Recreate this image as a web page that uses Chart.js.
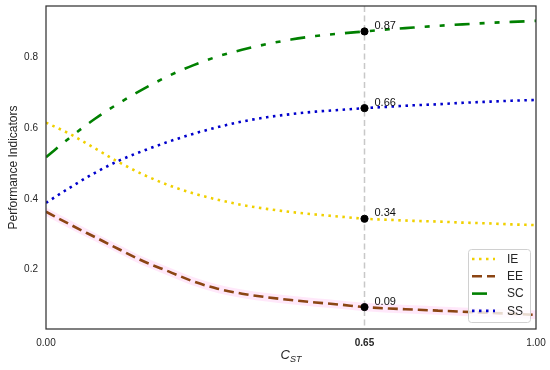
<!DOCTYPE html>
<html><head><meta charset="utf-8">
<script src="https://cdn.jsdelivr.net/npm/chart.js@4/dist/chart.umd.min.js"></script>
<style>html,body{margin:0;padding:0;background:#fff}</style>
</head><body>
<canvas id="c" width="550" height="370"></canvas>
<script>
// ---- data ----
const xValues  = [0,0.05,0.1,0.15,0.2,0.25,0.3,0.35,0.4,0.45,0.5,0.55,0.6,0.65,0.7,0.75,0.8,0.85,0.9,0.95,1.0];
const ieValues = [0.616,0.583,0.543,0.503,0.468,0.439,0.416,0.398,0.383,0.372,0.363,0.356,0.350,0.344,0.341,0.338,0.336,0.333,0.331,0.328,0.326];
const eeValues = [0.364,0.327,0.292,0.257,0.223,0.195,0.167,0.146,0.132,0.122,0.114,0.107,0.101,0.094,0.090,0.087,0.084,0.081,0.078,0.075,0.072];
const scValues = [0.518,0.575,0.627,0.672,0.712,0.748,0.778,0.803,0.822,0.838,0.851,0.861,0.868,0.874,0.880,0.885,0.890,0.894,0.898,0.901,0.904];
const ssValues = [0.389,0.433,0.474,0.509,0.537,0.562,0.584,0.603,0.619,0.631,0.640,0.647,0.652,0.657,0.661,0.665,0.668,0.672,0.675,0.678,0.680];
const eeBandHalf = 0.012;
const seriesNames = ['IE','EE','SC','SS'];
const highlightX = 0.65;
const xTicks = [0, 0.65, 1.0];
const yTicks = [0.2, 0.4, 0.6, 0.8];
const yMin = 0.032, yMax = 0.946;

const FONT = '"Liberation Sans", Arial, sans-serif';
const TXT = '#262626';
const pts = arr => arr.map((v,i)=>({x:xValues[i], y:v}));
const hiIdx = xValues.indexOf(highlightX);
const allSeries = [ieValues, eeValues, scValues, ssValues];

const styles = [
  {color:'#f0d000', dash:[2.5,4.5]},
  {color:'#8b4513', dash:[10,5]},
  {color:'#008000', dash:[15,10,5,10,5,10]},
  {color:'#0000cc', dash:[2.5,4.5]}
];

const datasets = seriesNames.map((n,i)=>({
  label:n, data:pts(allSeries[i]), borderColor:styles[i].color, borderDash:styles[i].dash,
  borderWidth:2.6, pointRadius:0, fill:false, tension:0.4, cubicInterpolationMode:'monotone', order:i+1
}));
datasets.push({label:'_bandHi', data:pts(eeValues.map(v=>v+eeBandHalf)), borderWidth:0, pointRadius:0,
  backgroundColor:'rgba(255,190,240,0.35)', fill:'+1', order:20, cubicInterpolationMode:'monotone'});
datasets.push({label:'_bandLo', data:pts(eeValues.map(v=>v-eeBandHalf)), borderWidth:0, pointRadius:0,
  fill:false, order:21, cubicInterpolationMode:'monotone'});
datasets.push({label:'_dots', type:'scatter', data:allSeries.map(s=>({x:xValues[hiIdx], y:s[hiIdx]})),
  pointRadius:3.6, pointBackgroundColor:'#000', pointBorderColor:'#000', showLine:false, order:0});

const decor = {
  id:'decor',
  beforeDatasetsDraw(chart){
    const {ctx, chartArea:a, scales:{x}} = chart;
    const px = x.getPixelForValue(highlightX);
    ctx.save();
    ctx.strokeStyle = '#c8c8c8'; ctx.lineWidth = 1.5; ctx.setLineDash([6,3.5]);
    ctx.beginPath(); ctx.moveTo(px, a.top); ctx.lineTo(px, a.bottom); ctx.stroke();
    ctx.restore();
  },
  afterDraw(chart){
    const {ctx, chartArea:a, scales:{x,y}} = chart;
    ctx.save();
    // frame
    ctx.strokeStyle = '#333'; ctx.lineWidth = 1.25;
    ctx.strokeRect(a.left, a.top, a.right-a.left, a.bottom-a.top);
    // highlight labels
    ctx.fillStyle = '#111'; ctx.font = '11px '+FONT; ctx.textAlign='left'; ctx.textBaseline='middle';
    allSeries.forEach(s=>{
      const v = s[hiIdx];
      ctx.fillText(v.toFixed(2), x.getPixelForValue(highlightX)+10, y.getPixelForValue(v)-5.5);
    });
    // legend
    const bw=62, bh=73, bl=a.right-68, bt=a.bottom-80;
    ctx.fillStyle='rgba(255,255,255,0.8)'; ctx.strokeStyle='#d0d0d0'; ctx.lineWidth=1;
    ctx.beginPath(); ctx.roundRect(bl+0.5, bt+0.5, bw, bh, 3); ctx.fill(); ctx.stroke();
    seriesNames.forEach((n,i)=>{
      const ry = bt + 10 + i*17.3;
      ctx.strokeStyle=styles[i].color; ctx.lineWidth=2.6; ctx.setLineDash(styles[i].dash);
      ctx.beginPath(); ctx.moveTo(bl+4, ry); ctx.lineTo(bl+27, ry); ctx.stroke();
      ctx.setLineDash([]);
      ctx.fillStyle=TXT; ctx.font='12px '+FONT; ctx.textAlign='left'; ctx.textBaseline='middle';
      ctx.fillText(n, bl+39, ry+0.5);
    });
    // axis titles
    ctx.fillStyle=TXT; ctx.font='12px '+FONT; ctx.textAlign='center'; ctx.textBaseline='middle';
    ctx.save(); ctx.translate(14, (a.top+a.bottom)/2); ctx.rotate(-Math.PI/2);
    ctx.fillText('Performance Indicators', 0, 0); ctx.restore();
    const cx = (a.left+a.right)/2;
    ctx.font='italic 13px '+FONT; ctx.textAlign='left';
    const wC = ctx.measureText('C').width;
    ctx.font='italic 9px '+FONT;
    const wS = ctx.measureText('ST').width;
    const start = cx - (wC+wS)/2;
    ctx.font='italic 13px '+FONT; ctx.fillText('C', start, 355);
    ctx.font='italic 9px '+FONT; ctx.fillText('ST', start+wC, 359);
    ctx.restore();
  }
};

new Chart(document.getElementById('c'), {
  type:'line',
  data:{datasets},
  options:{
    responsive:false, animation:false, devicePixelRatio:1,
    layout:{padding:{left:0,right:14,top:6,bottom:0}},
    plugins:{legend:{display:false}, tooltip:{enabled:false}},
    scales:{
      x:{type:'linear', min:0, max:1,
        grid:{display:false, drawTicks:false}, border:{display:false},
        afterBuildTicks(s){ s.ticks = xTicks.map(v=>({value:v})); },
        afterFit(s){ s.height = 41; s.paddingLeft = 0; s.paddingRight = 0; },
        ticks:{padding:8, color:TXT, maxRotation:0,
          callback:v=>Number(v).toFixed(2),
          font:c=>({family:FONT, size:10, weight:(c.tick && c.tick.value===highlightX)?'bold':'normal'})}
      },
      y:{min:yMin, max:yMax,
        grid:{display:false, drawTicks:false}, border:{display:false},
        afterBuildTicks(s){ s.ticks = yTicks.map(v=>({value:v})); },
        afterFit(s){ s.width = 46; s.paddingTop = 0; s.paddingBottom = 0; },
        ticks:{padding:8, color:TXT, font:{family:FONT, size:10}, callback:v=>Number(v).toFixed(1)}
      }
    }
  },
  plugins:[decor]
});
</script>
</body></html>
